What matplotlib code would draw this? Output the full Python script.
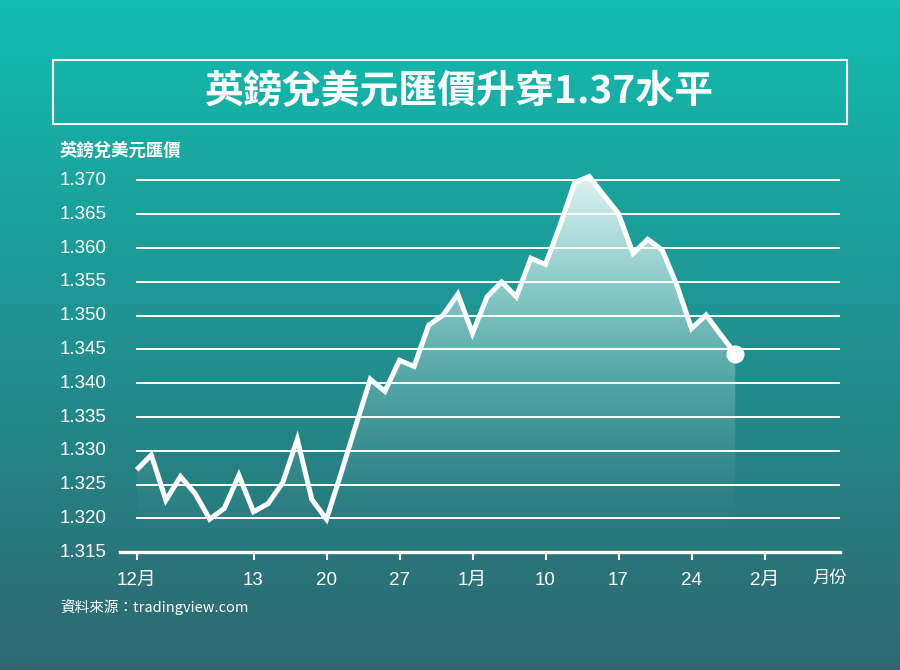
import numpy as np
import matplotlib
matplotlib.use("Agg")
import matplotlib.pyplot as plt
from matplotlib import transforms
from matplotlib.patches import Rectangle

# ---- data (trading-day index from 1 Dec) ----
rate = [1.3272, 1.3294, 1.3227, 1.3262, 1.3237, 1.3199, 1.3215, 1.3264, 1.3210,
        1.3222, 1.3253, 1.3317, 1.3228, 1.3199, 1.3267, 1.3337, 1.3406, 1.3388,
        1.3434, 1.3425, 1.3486, 1.3501, 1.3532, 1.3474, 1.3528, 1.3550, 1.3528,
        1.3585, 1.3576, 1.3634, 1.3697, 1.3706, 1.3678, 1.3651, 1.3592, 1.3613,
        1.3597, 1.3545, 1.3481, 1.3501, 1.3472, 1.3444]
days = list(range(len(rate)))
tick_pos = [0, 8, 13, 18, 23, 28, 33, 38, 43]
tick_labels = ["12月", "13", "20", "27", "1月", "10", "17", "24", "2月"]
y_ticks = [1.315, 1.320, 1.325, 1.330, 1.335, 1.340, 1.345, 1.350, 1.355, 1.360, 1.365, 1.370]

title = "英鎊兌美元匯價升穿1.37水平"
ylabel = "英鎊兌美元匯價"
xlabel = "月份"
source = "資料來源：tradingview.com"

FONT = ["Liberation Sans", "Noto Sans CJK TC", "DejaVu Sans"]
CJK = ["Noto Sans CJK TC", "DejaVu Sans"]

W, H = 900, 670
fig = plt.figure(figsize=(9, 6.7), dpi=100)

# background gradient
bg = fig.add_axes([0, 0, 1, 1], zorder=-10)
top = np.array([18, 188, 176]) / 255
bot = np.array([46, 104, 112]) / 255
t = np.linspace(0, 1, 256)[:, None]
grad = top[None, :] * (1 - t) + bot[None, :] * t
bg.imshow(grad[:, None, :], aspect="auto", extent=[0, 1, 0, 1], origin="upper")
bg.set_axis_off()

# main axes : x px = 136.7 + 14.6*i ; y px(top) = 552.3 - (v-1.315)*6760
px0, dpx = 136.7, 14.6
xl = (120 - px0) / dpx
xr = (840 - px0) / dpx
ytop = 1.315 + (552.3 - 165) / 6760
ax = fig.add_axes([120 / W, (H - 552.3) / H, 720 / W, (552.3 - 165) / H])
ax.set_facecolor("none")

# gradient fill under line
poly = ax.fill_between(days, rate, 1.315, facecolor="none", edgecolor="none")
s = np.linspace(1, 0, 256)
alpha = 0.88 * s ** 1.7
img = np.ones((256, 1, 4))
img[:, 0, 3] = alpha
im = ax.imshow(img, extent=[days[0], days[-1], 1.315, 1.371], aspect="auto",
               origin="upper", zorder=2)
im.set_clip_path(poly.get_paths()[0], transform=ax.transData)

# grid lines
gx0 = (135.7 - px0) / dpx
ax.hlines(y_ticks[1:], gx0, xr, colors="white", linewidth=1.4, zorder=1)

# line and end marker
ax.plot(days, rate, color="white", linewidth=3.6, solid_joinstyle="miter",
        solid_capstyle="butt", zorder=4)
ax.plot(days[-1], rate[-1], "o", color="white", markersize=12, zorder=5)

ax.set_xlim(xl, xr)
ax.set_ylim(1.315, ytop)

for sp in ["top", "right", "left"]:
    ax.spines[sp].set_visible(False)
ax.spines["bottom"].set_color("white")
ax.spines["bottom"].set_linewidth(2.4)
ax.spines["bottom"].set_zorder(6)

ax.set_yticks([])
ax.set_xticks(tick_pos)
ax.set_xticklabels(tick_labels, family=FONT, fontsize=13.5, color="white")
ax.tick_params(axis="x", colors="white", length=6, width=1.5, pad=8)

# y tick labels
tr = transforms.blended_transform_factory(fig.transFigure, ax.transData)
for v in y_ticks:
    ax.text(60 / W, v, f"{v:.3f}", transform=tr, ha="left", va="center",
            family=FONT, fontsize=13.5, color="white")

# texts
fig.text(60 / W, 1 - 151 / H, ylabel, family=CJK, fontsize=12.5, color="white",
         ha="left", va="center", fontweight="bold")
fig.text(830 / W, 1 - 578 / H, xlabel, family=CJK, fontsize=12.5, color="white",
         ha="center", va="center")
fig.text(60 / W, 1 - 607 / H, source, family=CJK, fontsize=10.5, color="white",
         ha="left", va="center")

# title box
fig.patches.append(Rectangle((53.4 / W, 1 - 123.5 / H), (846.7 - 53.4) / W, 64 / H,
                             transform=fig.transFigure, fill=False,
                             edgecolor="white", linewidth=1.5))
fig.text(459 / W, 1 - 92 / H, title, family=CJK, fontsize=28, fontweight="bold",
         color="white", ha="center", va="center")

fig.savefig("out.png", dpi=100)
